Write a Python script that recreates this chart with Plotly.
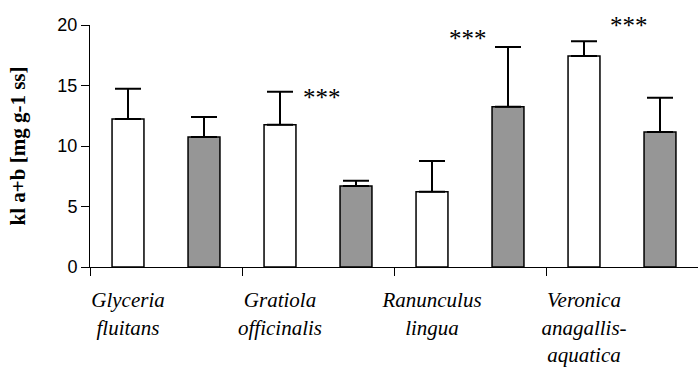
import plotly.graph_objects as go

# Chlorophyll a+b content per species: white = first treatment, grey = second
species = [
    "Glyceria<br>fluitans",
    "Gratiola<br>officinalis",
    "Ranunculus<br>lingua",
    "Veronica<br>anagallis-<br>aquatica",
]
white_mean = [12.23, 11.76, 6.22, 17.44]
white_sd = [2.51, 2.73, 2.54, 1.21]
grey_mean = [10.74, 6.69, 13.25, 11.16]
grey_sd = [1.66, 0.44, 4.93, 2.83]

# significance markers
sig_text = ["***", "***", "***"]
sig_x = [2.55, 4.47, 6.59]
sig_y = [14.0, 18.85, 20.0]

y_ticks = [0, 5, 10, 15, 20]

n = len(species)
white_x = [2 * i for i in range(n)]
grey_x = [2 * i + 1 for i in range(n)]

serif = "Liberation Serif"
sans = "Liberation Sans"

fig = go.Figure()
fig.add_trace(go.Bar(
    x=white_x, y=white_mean, width=0.42,
    marker=dict(color="white", line=dict(color="black", width=1.5)),
    error_y=dict(type="data", symmetric=False, array=white_sd,
                 arrayminus=[0] * n, color="black", thickness=2, width=13),
    showlegend=False,
))
fig.add_trace(go.Bar(
    x=grey_x, y=grey_mean, width=0.42,
    marker=dict(color="#969696", line=dict(color="black", width=1.5)),
    error_y=dict(type="data", symmetric=False, array=grey_sd,
                 arrayminus=[0] * n, color="black", thickness=2, width=13),
    showlegend=False,
))

for t, xv, yv in zip(sig_text, sig_x, sig_y):
    fig.add_annotation(x=xv, y=yv, xref="x", yref="y", text=t,
                       showarrow=False, yanchor="middle",
                       font=dict(family=serif, size=25, color="black"))

fig.update_layout(
    width=698, height=367,
    margin=dict(l=90, r=0, t=25, b=100),
    paper_bgcolor="white", plot_bgcolor="white",
    barmode="overlay",
    xaxis=dict(
        range=[-0.5, 7.5], automargin=False,
        tickvals=white_x, ticktext=["<i>" + s + "</i>" for s in species],
        ticks="", showgrid=False, zeroline=False,
        showline=True, linecolor="black", linewidth=1,
        tickfont=dict(family=serif, size=21, color="black"),
        ticklabelstandoff=14,
        minor=dict(tickvals=[-0.5, 1.5, 3.5, 5.5], ticks="outside",
                   ticklen=8, tickcolor="black", tickwidth=1, showgrid=False),
    ),
    yaxis=dict(
        range=[0, 20], tickvals=y_ticks, automargin=False,
        ticks="outside", ticklen=8, tickcolor="black", tickwidth=1,
        showgrid=False, zeroline=False,
        showline=True, linecolor="black", linewidth=1,
        tickfont=dict(family=sans, size=18, color="black"),
        ticksuffix="\u00a0",
        title=dict(text="kl a+b [mg g-1 ss]", standoff=26,
                   font=dict(family=serif, size=21, color="black", weight="bold")),
    ),
)

fig.write_html("out.html")
